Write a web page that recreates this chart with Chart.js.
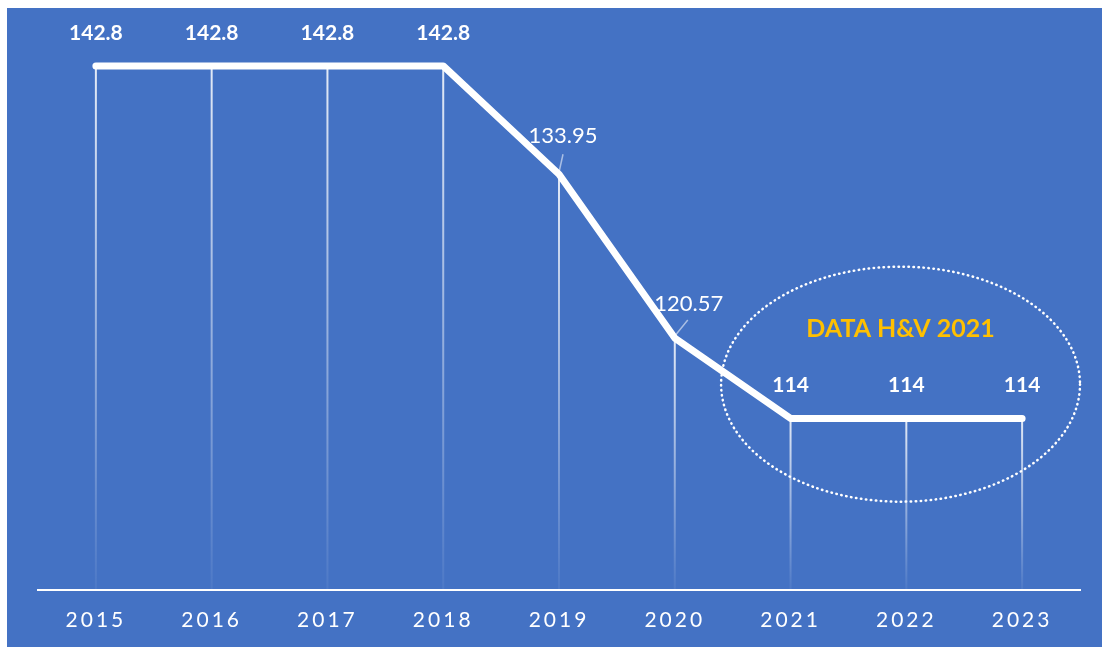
<!DOCTYPE html>
<html>
<head>
<meta charset="utf-8">
<script src="https://cdn.jsdelivr.net/npm/chart.js@4.4.1/dist/chart.umd.min.js"></script>
<style>
  html, body { margin: 0; padding: 0; background: #fff; }
  canvas { display: block; }
</style>
</head>
<body>
<canvas id="chart" width="1102" height="647"></canvas>
<script>
const years = ['2015', '2016', '2017', '2018', '2019', '2020', '2021', '2022', '2023'];
const values = [142.8, 142.8, 142.8, 142.8, 133.95, 120.57, 114, 114, 114];
const valueLabels = ['142.8', '142.8', '142.8', '142.8', '133.95', '120.57', '114', '114', '114'];
const noteText = 'DATA H&V 2021';

const BG = '#4472C4';
const GOLD = '#FFC000';
const FONT = 'Lato';

// white strip on top/left, blue panel elsewhere; tick letter spacing for the axis
const background = {
  id: 'background',
  beforeDraw(chart) {
    const { ctx, width, height } = chart;
    ctx.save();
    ctx.fillStyle = '#fff';
    ctx.fillRect(0, 0, width, height);
    ctx.fillStyle = BG;
    ctx.fillRect(7, 8, width - 7, height - 8);
    ctx.restore();
    ctx.letterSpacing = '3px';
  },
  beforeDatasetsDraw(chart) {
    chart.ctx.letterSpacing = '0px';
  }
};

// drop lines from each point to the axis, fading downwards
const dropLines = {
  id: 'dropLines',
  beforeDatasetsDraw(chart) {
    const { ctx, chartArea } = chart;
    const pts = chart.getDatasetMeta(0).data;
    ctx.save();
    ctx.lineWidth = 2;
    pts.forEach(p => {
      const g = ctx.createLinearGradient(0, p.y, 0, chartArea.bottom);
      g.addColorStop(0, 'rgba(255,255,255,0.85)');
      g.addColorStop(1, 'rgba(255,255,255,0.05)');
      ctx.strokeStyle = g;
      ctx.beginPath();
      ctx.moveTo(p.x, p.y);
      ctx.lineTo(p.x, chartArea.bottom);
      ctx.stroke();
    });
    ctx.restore();
  }
};

// value labels; points on the slope get shifted labels with a leader line
const valueTags = {
  id: 'valueTags',
  afterDatasetsDraw(chart, args, opts) {
    const { ctx } = chart;
    const pts = chart.getDatasetMeta(0).data;
    ctx.save();
    ctx.fillStyle = '#fff';
    ctx.textAlign = 'center';
    ctx.textBaseline = 'middle';
    pts.forEach((p, i) => {
      const shift = opts.shift[i];
      if (shift) {
        ctx.font = `400 22px ${FONT}`;
        ctx.strokeStyle = 'rgba(255,255,255,0.55)';
        ctx.lineWidth = 1.5;
        ctx.beginPath();
        ctx.moveTo(p.x, p.y - 2);
        ctx.lineTo(p.x + shift[2], p.y + shift[3]);
        ctx.stroke();
        ctx.fillText(valueLabels[i], p.x + shift[0], p.y + shift[1]);
      } else {
        ctx.font = `700 21px ${FONT}`;
        ctx.fillText(valueLabels[i], p.x, p.y - 33);
      }
    });
    ctx.restore();
  }
};

// dotted ellipse round the H&V 2021 figures, placed in data units
const note = {
  id: 'note',
  afterDraw(chart, args, opts) {
    const { ctx, scales: { x, y } } = chart;
    const x0 = x.getPixelForValue(opts.from), x1 = x.getPixelForValue(opts.to);
    const y0 = y.getPixelForValue(opts.high), y1 = y.getPixelForValue(opts.low);
    ctx.save();
    ctx.strokeStyle = '#fff';
    ctx.lineWidth = 2.5;
    ctx.lineCap = 'round';
    ctx.setLineDash([0.5, 4.5]);
    ctx.beginPath();
    ctx.ellipse((x0 + x1) / 2, (y0 + y1) / 2, (x1 - x0) / 2, (y1 - y0) / 2, 0, 0, Math.PI * 2);
    ctx.stroke();
    ctx.setLineDash([]);
    ctx.fillStyle = GOLD;
    ctx.font = `700 25px ${FONT}`;
    ctx.textAlign = 'center';
    ctx.textBaseline = 'middle';
    ctx.fillText(noteText, (x0 + x1) / 2, y.getPixelForValue(opts.textAt));
    ctx.restore();
  }
};

new Chart(document.getElementById('chart'), {
  type: 'line',
  data: {
    labels: years,
    datasets: [{
      data: values,
      borderColor: '#fff',
      borderWidth: 7,
      borderCapStyle: 'round',
      borderJoinStyle: 'round',
      pointRadius: 0,
      tension: 0,
      fill: false
    }]
  },
  options: {
    responsive: false,
    animation: false,
    devicePixelRatio: 1,
    layout: { padding: { left: 38, right: 22, top: 39, bottom: -4 } },
    plugins: {
      legend: { display: false },
      tooltip: { enabled: false },
      valueTags: { shift: { 4: [4, -38, 4, -20], 5: [14, -34, 13, -18] } },
      note: { from: 5.4, to: 8.5, low: 107.2, high: 126.4, textAt: 121.3 }
    },
    scales: {
      x: {
        offset: true,
        grid: { display: false, drawTicks: false },
        border: { display: true, color: '#fff', width: 2 },
        ticks: { color: '#fff', font: { family: FONT, size: 21 }, padding: 18 }
      },
      y: { display: false, min: 100, max: 145 }
    }
  },
  plugins: [background, dropLines, valueTags, note]
});
</script>
</body>
</html>
